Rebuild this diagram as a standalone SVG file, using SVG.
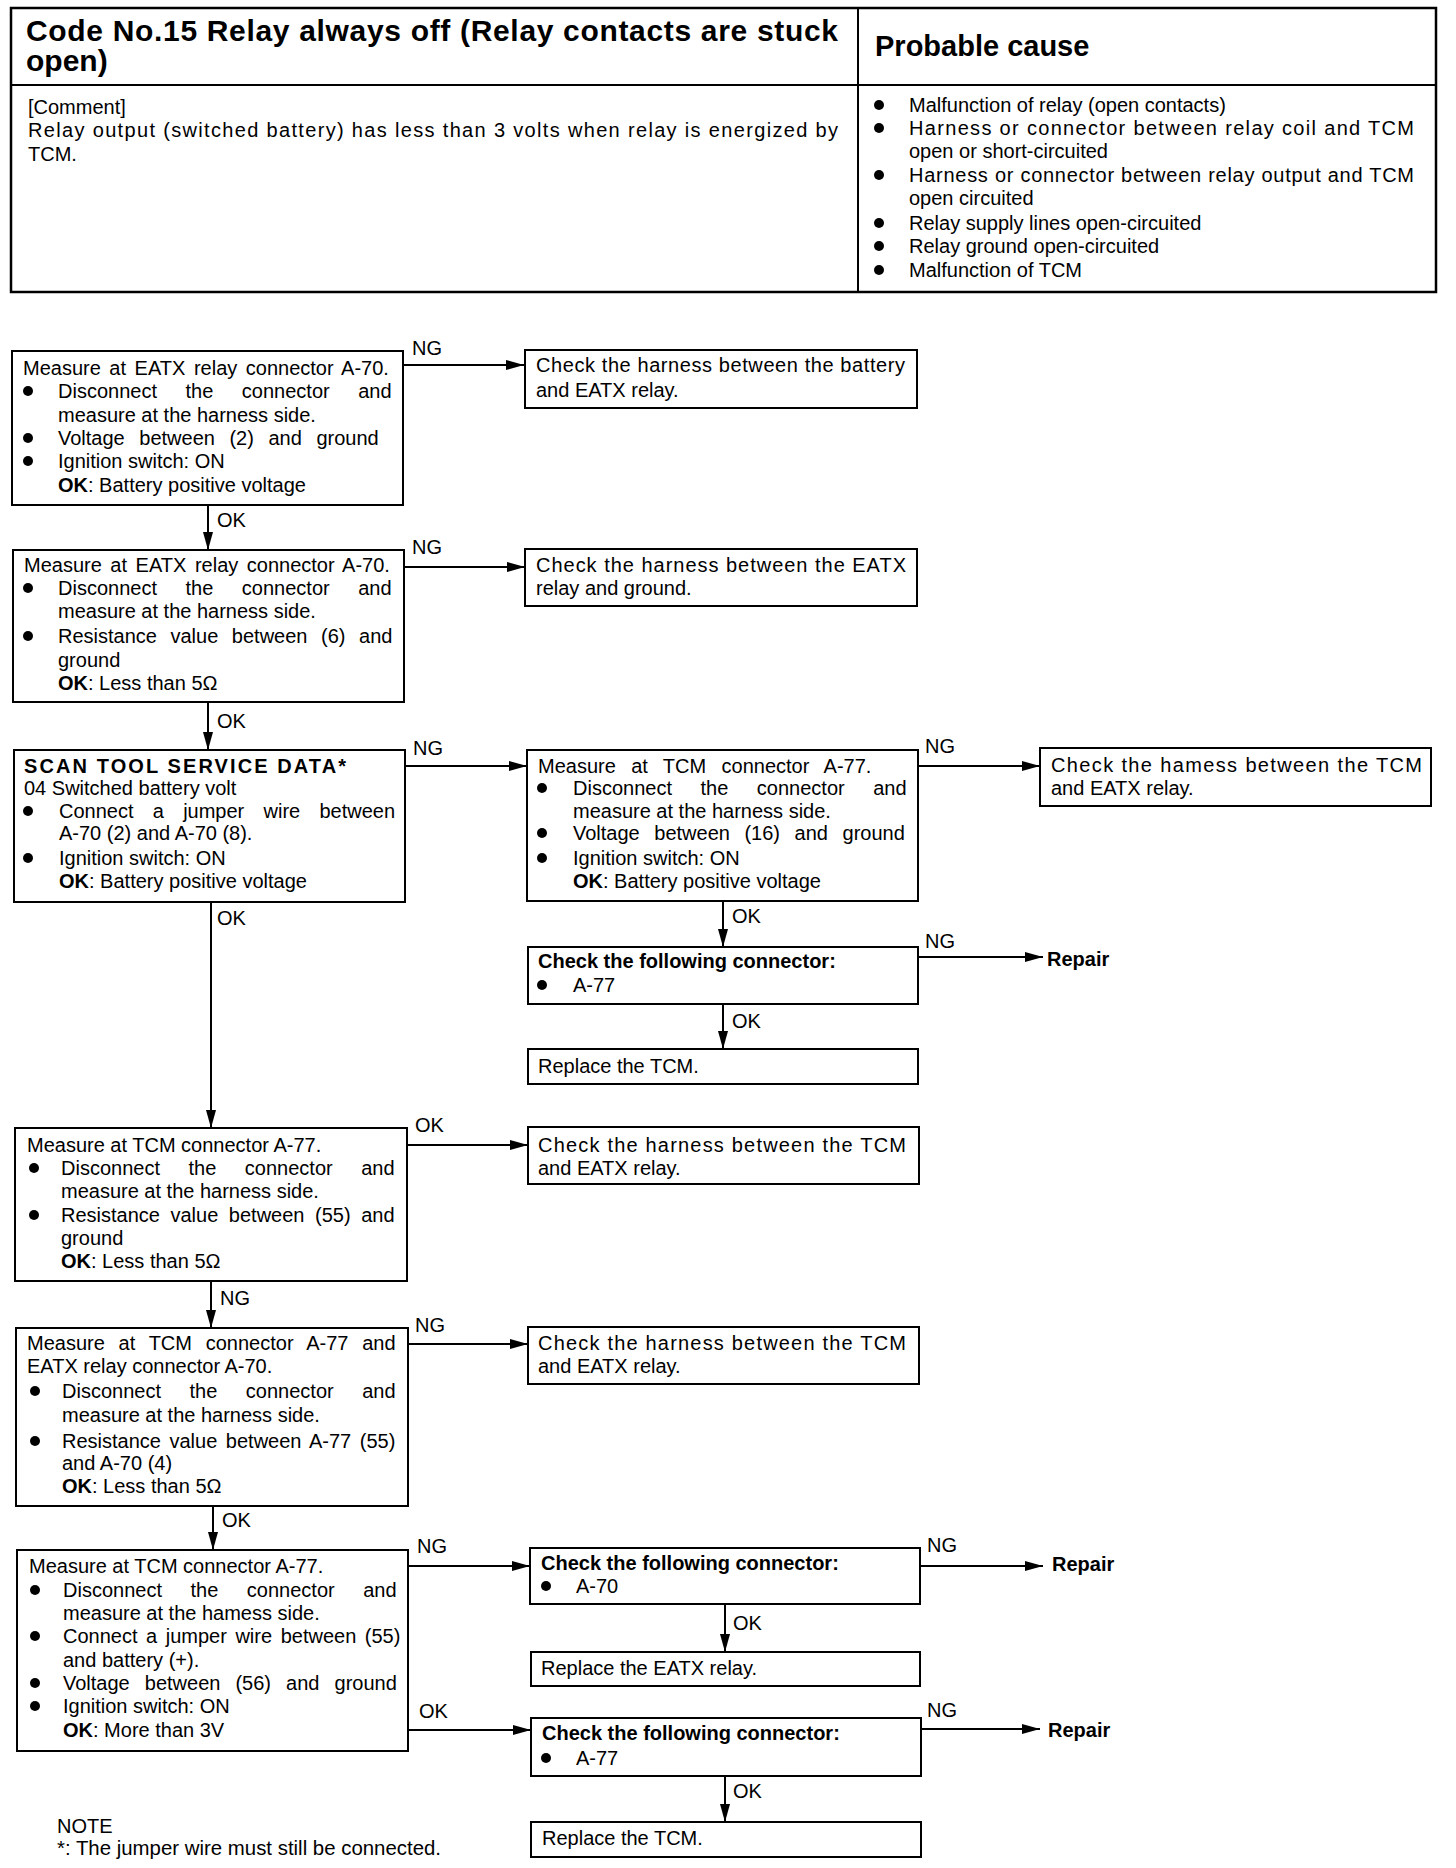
<svg xmlns="http://www.w3.org/2000/svg" width="1456" height="1868" viewBox="0 0 1456 1868">
<defs>
<style>
text{font-family:"Liberation Sans",Arial,sans-serif;font-size:20px;fill:#000}
.t{font-size:30px;font-weight:bold}
.pc{font-size:29px;font-weight:bold}
.bd{font-weight:bold}
.box{fill:#fff;stroke:#000;stroke-width:2}
.tbl{fill:none;stroke:#000;stroke-width:2.5}
.ln{fill:none;stroke:#000;stroke-width:2}
.con{fill:none;stroke:#000;stroke-width:2;marker-end:url(#ah)}
.dot{fill:#000}
</style>
<marker id="ah" markerUnits="userSpaceOnUse" markerWidth="18" markerHeight="10" refX="18" refY="5" orient="auto">
<path d="M0,0 L18,5 L0,10 z" fill="#000"/>
</marker>
</defs>
<rect width="1456" height="1868" fill="#fff"/>

<g id="table">
<rect class="tbl" x="11" y="8" width="1425" height="284"/>
<line class="ln" x1="858" y1="8" x2="858" y2="292"/>
<line class="ln" x1="11" y1="85" x2="1436" y2="85"/>
<text class="t" x="26" y="41" textLength="812">Code No.15 Relay always off (Relay contacts are stuck</text>
<text class="t" x="26" y="71">open)</text>
<text class="pc" x="875" y="56">Probable cause</text>
<text x="28" y="114">[Comment]</text>
<text x="28" y="137" textLength="810">Relay output (switched battery) has less than 3 volts when relay is energized by</text>
<text x="28" y="161">TCM.</text>
<circle class="dot" cx="879" cy="105" r="5"/>
<text x="909" y="112">Malfunction of relay (open contacts)</text>
<circle class="dot" cx="879" cy="128" r="5"/>
<text x="909" y="135" textLength="505">Harness or connector between relay coil and TCM</text>
<text x="909" y="158">open or short-circuited</text>
<circle class="dot" cx="879" cy="175" r="5"/>
<text x="909" y="182" textLength="505">Harness or connector between relay output and TCM</text>
<text x="909" y="205">open circuited</text>
<circle class="dot" cx="879" cy="223" r="5"/>
<text x="909" y="230">Relay supply lines open-circuited</text>
<circle class="dot" cx="879" cy="246" r="5"/>
<text x="909" y="253">Relay ground open-circuited</text>
<circle class="dot" cx="879" cy="270" r="5"/>
<text x="909" y="277">Malfunction of TCM</text>
</g>

<g id="connectors">
<line class="con" x1="403" y1="365" x2="524" y2="365"/>
<line class="con" x1="208" y1="505" x2="208" y2="550"/>
<line class="con" x1="404" y1="567" x2="525" y2="567"/>
<line class="con" x1="208" y1="702" x2="208" y2="750"/>
<line class="con" x1="405" y1="766" x2="527" y2="766"/>
<line class="con" x1="918" y1="766" x2="1040" y2="766"/>
<line class="con" x1="723" y1="901" x2="723" y2="947"/>
<line class="con" x1="918" y1="957" x2="1043" y2="957"/>
<line class="con" x1="723" y1="1004" x2="723" y2="1049"/>
<line class="con" x1="211" y1="902" x2="211" y2="1128"/>
<line class="con" x1="407" y1="1145" x2="528" y2="1145"/>
<line class="con" x1="211" y1="1281" x2="211" y2="1328"/>
<line class="con" x1="408" y1="1344" x2="528" y2="1344"/>
<line class="con" x1="213" y1="1506" x2="213" y2="1550"/>
<line class="con" x1="408" y1="1566" x2="530" y2="1566"/>
<line class="con" x1="920" y1="1566" x2="1043" y2="1566"/>
<line class="con" x1="725" y1="1604" x2="725" y2="1652"/>
<line class="con" x1="408" y1="1730" x2="531" y2="1730"/>
<line class="con" x1="921" y1="1729" x2="1040" y2="1729"/>
<line class="con" x1="725" y1="1776" x2="725" y2="1822"/>
<text x="412" y="355">NG</text>
<text x="217" y="527">OK</text>
<text x="412" y="554">NG</text>
<text x="217" y="728">OK</text>
<text x="413" y="755">NG</text>
<text x="925" y="753">NG</text>
<text x="732" y="923">OK</text>
<text x="925" y="948">NG</text>
<text x="732" y="1028">OK</text>
<text x="217" y="925">OK</text>
<text x="415" y="1132">OK</text>
<text x="220" y="1305">NG</text>
<text x="415" y="1332">NG</text>
<text x="222" y="1527">OK</text>
<text x="417" y="1553">NG</text>
<text x="927" y="1552">NG</text>
<text x="733" y="1630">OK</text>
<text x="419" y="1718">OK</text>
<text x="927" y="1717">NG</text>
<text x="733" y="1798">OK</text>
</g>

<g id="box1">
<rect class="box" x="12" y="351" width="391" height="154"/>
<text x="23" y="375" word-spacing="3">Measure at EATX relay connector A-70.</text>
<circle class="dot" cx="28" cy="391" r="5"/>
<text x="58" y="398" word-spacing="23">Disconnect the connector and</text>
<text x="58" y="422">measure at the harness side.</text>
<circle class="dot" cx="28" cy="438" r="5"/>
<text x="58" y="445" word-spacing="9">Voltage between (2) and ground</text>
<circle class="dot" cx="28" cy="461" r="5"/>
<text x="58" y="468">Ignition switch: ON</text>
<text x="58" y="492"><tspan class="bd">OK</tspan>: Battery positive voltage</text>
</g>

<g id="ng1">
<rect class="box" x="525" y="350" width="392" height="58"/>
<text x="536" y="372" textLength="369">Check the harness between the battery</text>
<text x="536" y="397">and EATX relay.</text>
</g>

<g id="box2">
<rect class="box" x="13" y="550" width="391" height="152"/>
<text x="24" y="572" word-spacing="3">Measure at EATX relay connector A-70.</text>
<circle class="dot" cx="28" cy="588" r="5"/>
<text x="58" y="595" word-spacing="23">Disconnect the connector and</text>
<text x="58" y="618">measure at the harness side.</text>
<circle class="dot" cx="28" cy="636" r="5"/>
<text x="58" y="643" word-spacing="8">Resistance value between (6) and</text>
<text x="58" y="667">ground</text>
<text x="58" y="690"><tspan class="bd">OK</tspan>: Less than 5Ω</text>
</g>

<g id="ng2">
<rect class="box" x="525" y="549" width="392" height="57"/>
<text x="536" y="572" textLength="370">Check the harness between the EATX</text>
<text x="536" y="595">relay and ground.</text>
</g>

<g id="box3">
<rect class="box" x="14" y="750" width="391" height="152"/>
<text class="bd" x="24" y="773" textLength="322">SCAN TOOL SERVICE DATA*</text>
<text x="24" y="795">04 Switched battery volt</text>
<circle class="dot" cx="28" cy="811" r="5"/>
<text x="59" y="818" word-spacing="13.7">Connect a jumper wire between</text>
<text x="59" y="840">A-70 (2) and A-70 (8).</text>
<circle class="dot" cx="28" cy="858" r="5"/>
<text x="59" y="865">Ignition switch: ON</text>
<text x="59" y="888"><tspan class="bd">OK</tspan>: Battery positive voltage</text>
</g>

<g id="box4">
<rect class="box" x="527" y="750" width="391" height="151"/>
<text x="538" y="773" word-spacing="9.8">Measure at TCM connector A-77.</text>
<circle class="dot" cx="542" cy="788" r="5"/>
<text x="573" y="795" word-spacing="23">Disconnect the connector and</text>
<text x="573" y="818">measure at the harness side.</text>
<circle class="dot" cx="542" cy="833" r="5"/>
<text x="573" y="840" word-spacing="9">Voltage between (16) and ground</text>
<circle class="dot" cx="542" cy="858" r="5"/>
<text x="573" y="865">Ignition switch: ON</text>
<text x="573" y="888"><tspan class="bd">OK</tspan>: Battery positive voltage</text>
</g>

<g id="box5">
<rect class="box" x="1040" y="748" width="391" height="58"/>
<text x="1051" y="772" textLength="371">Check the hamess between the TCM</text>
<text x="1051" y="795">and EATX relay.</text>
</g>

<g id="box6">
<rect class="box" x="528" y="947" width="390" height="57"/>
<text class="bd" x="538" y="968">Check the following connector:</text>
<circle class="dot" cx="542" cy="985" r="5"/>
<text x="573" y="992">A-77</text>
</g>
<text id="repair1" class="bd" x="1047" y="966">Repair</text>

<g id="box7">
<rect class="box" x="528" y="1049" width="390" height="35"/>
<text x="538" y="1073">Replace the TCM.</text>
</g>

<g id="box8">
<rect class="box" x="15" y="1128" width="392" height="153"/>
<text x="27" y="1152">Measure at TCM connector A-77.</text>
<circle class="dot" cx="34" cy="1168" r="5"/>
<text x="61" y="1175" word-spacing="23">Disconnect the connector and</text>
<text x="61" y="1198">measure at the harness side.</text>
<circle class="dot" cx="34" cy="1215" r="5"/>
<text x="61" y="1222" word-spacing="5">Resistance value between (55) and</text>
<text x="61" y="1245">ground</text>
<text x="61" y="1268"><tspan class="bd">OK</tspan>: Less than 5Ω</text>
</g>

<g id="box9">
<rect class="box" x="528" y="1127" width="391" height="57"/>
<text x="538" y="1152" textLength="368">Check the harness between the TCM</text>
<text x="538" y="1175">and EATX relay.</text>
</g>

<g id="box10">
<rect class="box" x="16" y="1328" width="392" height="178"/>
<text x="27" y="1350" word-spacing="8.2">Measure at TCM connector A-77 and</text>
<text x="27" y="1373">EATX relay connector A-70.</text>
<circle class="dot" cx="35" cy="1391" r="5"/>
<text x="62" y="1398" word-spacing="23">Disconnect the connector and</text>
<text x="62" y="1422">measure at the harness side.</text>
<circle class="dot" cx="35" cy="1441" r="5"/>
<text x="62" y="1448" word-spacing="3">Resistance value between A-77 (55)</text>
<text x="62" y="1470">and A-70 (4)</text>
<text x="62" y="1493"><tspan class="bd">OK</tspan>: Less than 5Ω</text>
</g>

<g id="box11">
<rect class="box" x="528" y="1327" width="391" height="57"/>
<text x="538" y="1350" textLength="368">Check the harness between the TCM</text>
<text x="538" y="1373">and EATX relay.</text>
</g>

<g id="box12">
<rect class="box" x="17" y="1550" width="391" height="201"/>
<text x="29" y="1573">Measure at TCM connector A-77.</text>
<circle class="dot" cx="35" cy="1590" r="5"/>
<text x="63" y="1597" word-spacing="23">Disconnect the connector and</text>
<text x="63" y="1620">measure at the hamess side.</text>
<circle class="dot" cx="35" cy="1636" r="5"/>
<text x="63" y="1643" word-spacing="3">Connect a jumper wire between (55)</text>
<text x="63" y="1667">and battery (+).</text>
<circle class="dot" cx="35" cy="1683" r="5"/>
<text x="63" y="1690" word-spacing="9.5">Voltage between (56) and ground</text>
<circle class="dot" cx="35" cy="1706" r="5"/>
<text x="63" y="1713">Ignition switch: ON</text>
<text x="63" y="1737"><tspan class="bd">OK</tspan>: More than 3V</text>
</g>

<g id="box13">
<rect class="box" x="530" y="1548" width="390" height="56"/>
<text class="bd" x="541" y="1570">Check the following connector:</text>
<circle class="dot" cx="546" cy="1586" r="5"/>
<text x="576" y="1593">A-70</text>
</g>
<text id="repair2" class="bd" x="1052" y="1571">Repair</text>

<g id="box14">
<rect class="box" x="531" y="1652" width="389" height="34"/>
<text x="541" y="1675">Replace the EATX relay.</text>
</g>

<g id="box15">
<rect class="box" x="531" y="1718" width="390" height="58"/>
<text class="bd" x="542" y="1740">Check the following connector:</text>
<circle class="dot" cx="546" cy="1758" r="5"/>
<text x="576" y="1765">A-77</text>
</g>
<text id="repair3" class="bd" x="1048" y="1737">Repair</text>

<g id="box16">
<rect class="box" x="531" y="1822" width="390" height="35"/>
<text x="542" y="1845">Replace the TCM.</text>
</g>

<g id="note">
<text x="57" y="1833">NOTE</text>
<text x="57" y="1855" textLength="384" lengthAdjust="spacingAndGlyphs">*: The jumper wire must still be connected.</text>
</g>
</svg>
